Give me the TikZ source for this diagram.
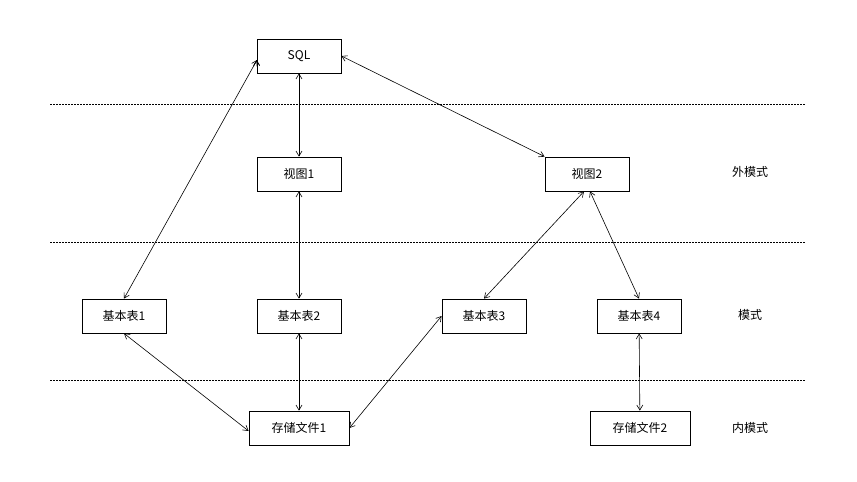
\documentclass[tikz,border=0pt]{standalone}
\usepackage{fontspec}
\setmainfont{Noto Sans CJK SC}
\usetikzlibrary{arrows.meta}
\begin{document}
\begin{tikzpicture}[x=1pt,y=-1pt,
  box/.style={draw,thick=false,line width=0.8pt,minimum width=84pt,minimum height=34pt,inner sep=0pt,font=\fontsize{12}{14}\selectfont},
  wbox/.style={box,minimum width=100pt},
  lbl/.style={font=\fontsize{12}{14}\selectfont},
  con/.style={line width=0.6pt,{Straight Barb[length=5pt,width=6pt]}-{Straight Barb[length=5pt,width=6pt]}},
  sep/.style={dashed,line width=0.6pt,dash pattern=on 2pt off 1pt}]
\useasboundingbox (0,0) rectangle (857,482);
\node[box] (sql) at (299,56) {SQL};
\node[box] (v1) at (299,174) {视图1};
\node[box] (v2) at (587,174) {视图2};
\node[box] (t1) at (124,316) {基本表1};
\node[box] (t2) at (299,316) {基本表2};
\node[box] (t3) at (484,316) {基本表3};
\node[box] (t4) at (639,316) {基本表4};
\node[wbox] (f1) at (299,428) {存储文件1};
\node[wbox] (f2) at (640,428) {存储文件2};
\node[lbl] (l1) at (750,172) {外模式};
\node[lbl] (l2) at (750,315) {模式};
\node[lbl] (l3) at (750,428) {内模式};
\coordinate (a1) at (50,104); \coordinate (b1) at (805,104);
\coordinate (a2) at (50,242); \coordinate (b2) at (805,242);
\coordinate (a3) at (50,380); \coordinate (b3) at (805,380);
\draw[sep] (a1) -- (b1);
\draw[sep] (a2) -- (b2);
\draw[sep] (a3) -- (b3);
\draw[con] (sql.south west |- 0,60) ++(0,0) coordinate (s1);
\draw[con] (257,60) -- (t1.north);
\draw[con] (sql.east) -- (v2.north west);
\draw[con] (sql) -- (v1);
\draw[con] (v1) -- (t2);
\draw[con] ([xshift=-3pt]v2.south) -- (t3.north);
\draw[con] ([xshift=3pt]v2.south) -- (t4.north);
\draw[con] (t1.south) -- ([yshift=-3pt]f1.west);
\draw[con] (t2) -- (f1);
\draw[con] (f1.east) -- (t3.west);
\draw[con] (t4) -- (f2);
\end{tikzpicture}
\end{document}
